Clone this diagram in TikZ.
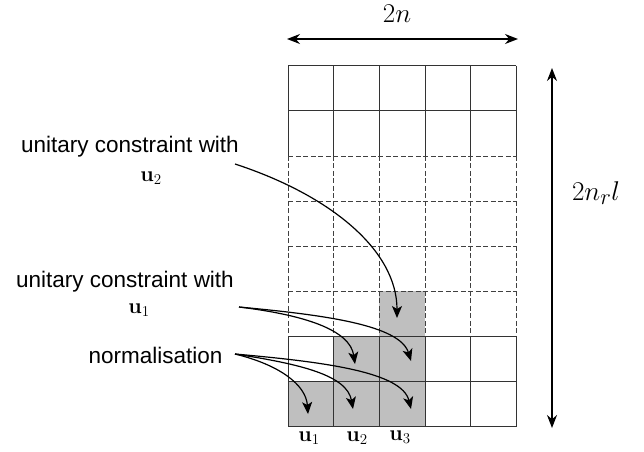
\documentclass[tikz,border=0pt]{standalone}
\usepackage[no-math]{fontspec}
\usepackage{graphicx}
\newfontfamily\lsans{Liberation Sans}
\usetikzlibrary{arrows.meta}
\newcommand{\ulab}[1]{\scalebox{1.25}{$\mathbf{u}_{#1}$}}
\tikzset{
  gridline/.style={draw=black!80, line width=0.9pt},
  dashgrid/.style={draw=black!75, line width=0.9pt, dash pattern=on 5pt off 2.5pt},
  shade/.style={fill=black!25, draw=none},
  txt/.style={font=\lsans\fontsize{22.5}{26}\selectfont, inner sep=0pt},
  mlab/.style={font=\LARGE, inner sep=0pt},
  biglab/.style={font=\Huge, inner sep=0pt},
  curvearrow/.style={draw=black, line width=1.2pt, -{Stealth[length=12pt,width=10pt,inset=3pt]}},
  dimarrow/.style={draw=black, line width=1.3pt, {Stealth[length=13pt,width=10pt]}-{Stealth[length=13pt,width=10pt]}},
}
\begin{document}
\begin{tikzpicture}[x=1pt,y=-1pt]
\useasboundingbox (0,0) rectangle (644,451);
\def\xo{288.3}\def\cw{45.55}\def\yo{65.7}\def\rh{45.125}
% shaded cells
\fill[shade] (\xo,{\yo+7*\rh}) rectangle ({\xo+\cw},{\yo+8*\rh});
\fill[shade] ({\xo+\cw},{\yo+6*\rh}) rectangle ({\xo+2*\cw},{\yo+8*\rh});
\fill[shade] ({\xo+2*\cw},{\yo+5*\rh}) rectangle ({\xo+3*\cw},{\yo+8*\rh});
% top solid block
\foreach \k in {0,1} \draw[gridline] (\xo,{\yo+\k*\rh}) -- ({\xo+5*\cw},{\yo+\k*\rh});
\foreach \c in {0,...,5} \draw[gridline] ({\xo+\c*\cw},\yo) -- ({\xo+\c*\cw},{\yo+2*\rh});
% dashed block
\foreach \k in {2,...,5} \draw[dashgrid] (\xo,{\yo+\k*\rh}) -- ({\xo+5*\cw},{\yo+\k*\rh});
\foreach \c in {0,...,5} \draw[dashgrid] ({\xo+\c*\cw},{\yo+2*\rh}) -- ({\xo+\c*\cw},{\yo+6*\rh});
% bottom solid block
\foreach \k in {6,7,8} \draw[gridline] (\xo,{\yo+\k*\rh}) -- ({\xo+5*\cw},{\yo+\k*\rh});
\foreach \c in {0,...,5} \draw[gridline] ({\xo+\c*\cw},{\yo+6*\rh}) -- ({\xo+\c*\cw},{\yo+8*\rh});

% dimension arrows
\coordinate (hl) at (287,39);
\coordinate (hr) at (518,39);
\coordinate (vt) at (552,68);
\coordinate (vb) at (552,428);
\draw[dimarrow] (hl) -- (hr);
\draw[dimarrow] (vt) -- (vb);
\node[biglab] (twon) at (397,14) {\scalebox{1.09}{$2n$}};
\node[biglab] (twonrl) at (596,193) {\scalebox{1.09}{$2n_rl$}};

% labels
\node[txt] (lab2) at (130,147) {unitary constraint with};
\node[mlab] (lu2) at (151,178) {\ulab{2}};
\node[txt] (lab1) at (125,282) {unitary constraint with};
\node[mlab] (lu1) at (139,310) {\ulab{1}};
\node[txt] (norm) at (155.5,355) {normalisation};
\node[mlab] (bu1) at (309,438) {\ulab{1}};
\node[mlab] (bu2) at (357,438) {\ulab{2}};
\node[mlab] (bu3) at (400,437) {\ulab{3}};

% curve endpoints
\coordinate (s2) at (235,164);
\coordinate (s1) at (239,307);
\coordinate (sn) at (235,354);
\coordinate (e63) at (397,318);
\coordinate (e72) at (355,364);
\coordinate (e73) at (411,361);
\coordinate (e81) at (308,414);
\coordinate (e82) at (353,409);
\coordinate (e83) at (411,409);

\draw[curvearrow] (s2) .. controls (330,195) and (397,250) .. (e63);
\draw[curvearrow] (s1) .. controls (305,315) and (350,330) .. (e72);
\draw[curvearrow] (s1) .. controls (325,315) and (400,325) .. (e73);
\draw[curvearrow] (sn) .. controls (280,365) and (306,385) .. (e81);
\draw[curvearrow] (sn) .. controls (300,364) and (347,375) .. (e82);
\draw[curvearrow] (sn) .. controls (325,362) and (402,372) .. (e83);
\end{tikzpicture}
\end{document}
